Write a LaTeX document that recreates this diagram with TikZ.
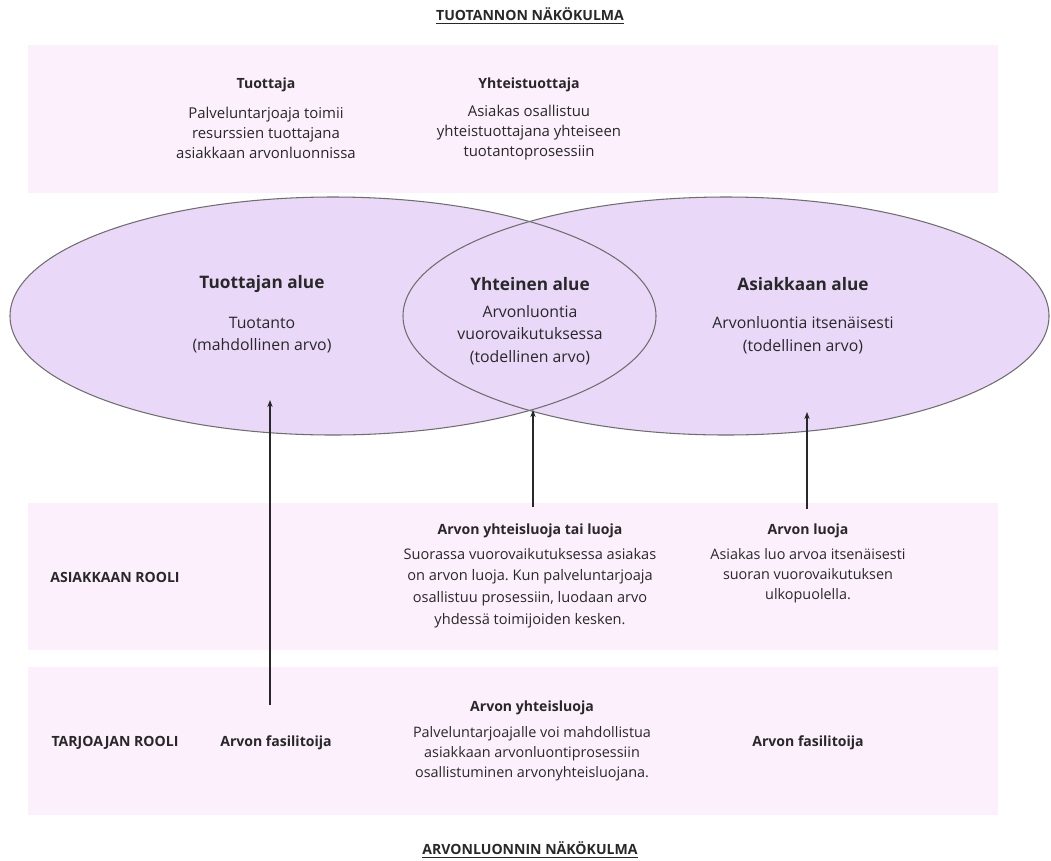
\documentclass[tikz,border=0pt]{standalone}
\usepackage{fontspec}
\IfFontExistsTF{Noto Sans Bold}
  {\setmainfont{Noto Sans}[BoldFont={Noto Sans Bold}]}
  {\setmainfont{Open Sans}}
\usepackage{tikz}
\usetikzlibrary{arrows.meta, positioning, shapes.geometric, calc}

\definecolor{bandpink}{RGB}{252,240,252}
\definecolor{areafill}{RGB}{234,216,248}
\definecolor{arealine}{RGB}{110,110,110}
\definecolor{textgray}{RGB}{40,40,40}

\begin{document}
\frenchspacing
\begin{tikzpicture}[
    band/.style={fill=bandpink, draw=none},
    title/.style={font=\bfseries\fontsize{8}{10}\selectfont, text=textgray},
    head/.style={font=\bfseries\fontsize{8}{10}\selectfont, text=textgray},
    body/.style={align=center, font=\fontsize{8.2}{11.4}\selectfont, text=textgray},
    areahead/.style={font=\bfseries\fontsize{9.8}{12}\selectfont, text=textgray},
    areabody/.style={align=center, font=\fontsize{9}{12.8}\selectfont, text=textgray},
    arr/.style={-{Stealth[length=4pt, width=3pt]}, line width=0.7pt, draw=textgray}
]
    \useasboundingbox (0,0) rectangle (21.02,-17.2);

    % bands
    \fill[band] (0.56,-0.9) rectangle (19.96,-3.86);
    \fill[band] (0.56,-10.06) rectangle (19.96,-13.0);
    \fill[band] (0.56,-13.34) rectangle (19.96,-16.3);

    % areas
    \fill[areafill] (6.66,-6.32) ellipse (6.46 and 2.38);
    \fill[areafill] (14.52,-6.32) ellipse (6.46 and 2.38);
    \draw[arealine, line width=0.6pt] (6.66,-6.32) ellipse (6.46 and 2.38);
    \draw[arealine, line width=0.6pt] (14.52,-6.32) ellipse (6.46 and 2.38);

    % titles
    \node[title] (prod) at (10.6,-0.32) {\underline{TUOTANNON NÄKÖKULMA}};
    \node[title] (value) at (10.6,-17.0) {\underline{ARVONLUONNIN NÄKÖKULMA}};

    % production view
    \node[head] (tuottaja) at (5.32,-1.7) {Tuottaja};
    \node[body, font=\fontsize{8.5}{11.4}\selectfont] (tuottajaTxt) at (5.32,-2.66) {Palveluntarjoaja toimii\\resurssien tuottajana\\asiakkaan arvonluonnissa};
    \node[head] (yhteis) at (10.58,-1.7) {Yhteistuottaja};
    \node[body, font=\fontsize{8.5}{11.4}\selectfont] (yhteisTxt) at (10.58,-2.66) {Asiakas osallistuu\\yhteistuottajana yhteiseen\\tuotantoprosessiin};

    % area labels
    \node[areahead] (tuotA) at (5.24,-5.68) {Tuottajan alue};
    \node[areabody] (tuotATxt) at (5.24,-6.7) {Tuotanto\\(mahdollinen arvo)};
    \node[areahead] (yhtA) at (10.6,-5.68) {Yhteinen alue};
    \node[areabody] (yhtATxt) at (10.6,-6.7) {Arvonluontia\\vuorovaikutuksessa\\(todellinen arvo)};
    \node[areahead] (asA) at (16.06,-5.68) {Asiakkaan alue};
    \node[areabody] (asATxt) at (16.06,-6.7) {Arvonluontia itsenäisesti\\(todellinen arvo)};

    % customer role
    \node[head] (asRooli) at (2.3,-11.54) {ASIAKKAAN ROOLI};
    \node[head] (yhtLuoja) at (10.6,-10.62) {Arvon yhteisluoja tai luoja};
    \node[body, font=\fontsize{8.3}{12.3}\selectfont] (yhtLuojaTxt) at (10.6,-11.76) {Suorassa vuorovaikutuksessa asiakas\\on arvon luoja. Kun palveluntarjoaja\\osallistuu prosessiin, luodaan arvo\\yhdessä toimijoiden kesken.};
    \node[head] (luoja) at (16.16,-10.62) {Arvon luoja};
    \node[body] (luojaTxt) at (16.16,-11.52) {Asiakas luo arvoa itsenäisesti\\suoran vuorovaikutuksen\\ulkopuolella.};

    % provider role
    \node[head] (tarjRooli) at (2.3,-14.86) {TARJOAJAN ROOLI};
    \node[head] (fasL) at (5.52,-14.86) {Arvon fasilitoija};
    \node[head] (yhtLuoja2) at (10.64,-14.16) {Arvon yhteisluoja};
    \node[body] (yhtLuoja2Txt) at (10.64,-15.08) {Palveluntarjoajalle voi mahdollistua\\asiakkaan arvonluontiprosessiin\\osallistuminen arvonyhteisluojana.};
    \node[head] (fasR) at (16.16,-14.86) {Arvon fasilitoija};

    % arrows
    \coordinate (tipL) at (5.4,-8.0);
    \coordinate (tipM) at (10.66,-8.2);
    \coordinate (tipR) at (16.14,-8.24);
    \draw[arr] ([yshift=14pt]tipL |- fasL.north) -- (tipL);
    \draw[arr] ([yshift=6pt]tipM |- yhtLuoja.north) -- (tipM);
    \draw[arr] ([yshift=5pt]tipR |- luoja.north) -- (tipR);
\end{tikzpicture}
\end{document}
